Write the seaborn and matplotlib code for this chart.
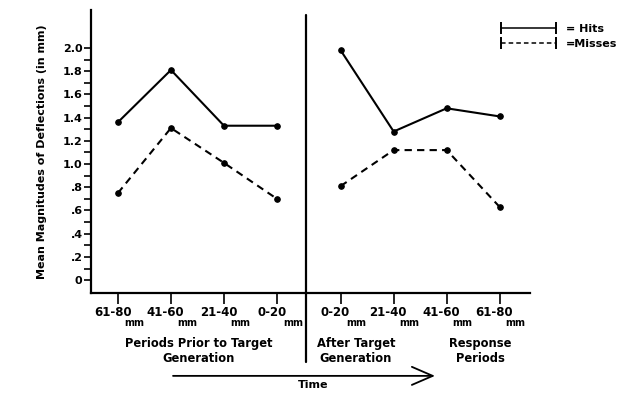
"""
Mean magnitudes of deflections for hits and misses,
before target generation and during the response periods.
"""

import pandas as pd
import numpy as np
import matplotlib.pyplot as plt
import seaborn as sns
from matplotlib.lines import Line2D
from matplotlib.transforms import blended_transform_factory

# ─────────────────────────────────────────
# Data
# ─────────────────────────────────────────
prior_labels = ["61-80", "41-60", "21-40", "0-20"]
after_labels = ["0-20", "21-40", "41-60", "61-80"]

prior_pos = [0.0, 1.0, 2.0, 3.0]
after_pos = [4.2, 5.2, 6.2, 7.2]

prior_hits = [1.36, 1.81, 1.33, 1.33]
prior_misses = [0.75, 1.31, 1.01, 0.70]
after_hits = [1.98, 1.28, 1.48, 1.41]
after_misses = [0.81, 1.12, 1.12, 0.63]

y_ticks = [0, 0.2, 0.4, 0.6, 0.8, 1.0, 1.2, 1.4, 1.6, 1.8, 2.0]
y_ticklabels = ["0", ".2", ".4", ".6", ".8", "1.0", "1.2", "1.4", "1.6", "1.8", "2.0"]

df = pd.concat([
    pd.DataFrame({"x": prior_pos, "value": prior_hits, "outcome": "Hits", "phase": "prior"}),
    pd.DataFrame({"x": prior_pos, "value": prior_misses, "outcome": "Misses", "phase": "prior"}),
    pd.DataFrame({"x": after_pos, "value": after_hits, "outcome": "Hits", "phase": "after"}),
    pd.DataFrame({"x": after_pos, "value": after_misses, "outcome": "Misses", "phase": "after"}),
], ignore_index=True)

sns.set_style("ticks")
plt.rcParams["font.family"] = ["DejaVu Sans"]
plt.rcParams["font.weight"] = "bold"
for key in ["text.color", "axes.labelcolor", "xtick.color", "ytick.color"]:
    plt.rcParams[key] = "black"

fig = plt.figure(figsize=(6.4, 3.94), dpi=100)
ax = fig.add_axes([0.142, 0.256, 0.686, 0.719])

sns.lineplot(
    data=df, x="x", y="value", style="outcome", units="phase", estimator=None,
    color="black", linewidth=1.5, markers={"Hits": "o", "Misses": "o"},
    dashes={"Hits": "", "Misses": (3.5, 2.5)}, markersize=4,
    markeredgecolor="black", legend=False, ax=ax,
)

# axes / spines
ax.set_xlim(-0.51, 7.77)
ax.set_ylim(-0.112, 2.328)
sns.despine(ax=ax)
for s in ["left", "bottom"]:
    ax.spines[s].set_linewidth(1.6)
    ax.spines[s].set_color("black")

ax.set_yticks(y_ticks, labels=y_ticklabels, fontsize=8, fontweight="bold")
ax.set_yticks(np.arange(0.1, 2.0, 0.2), minor=True)
ax.tick_params(axis="y", which="both", direction="out", length=5, width=1.2, pad=1)

ax.set_xticks(prior_pos + after_pos, labels=[""] * 8)
ax.tick_params(axis="x", direction="out", length=8, width=1.2)
ax.set_xlabel("")
ax.set_ylabel("Mean Magnitudes of Deflections (in mm)", fontsize=8,
              fontweight="bold", labelpad=11)

# tick labels with subscript "mm"
tr = blended_transform_factory(ax.transData, fig.transFigure)
for pos, lab in zip(prior_pos + after_pos, prior_labels + after_labels):
    ax.text(pos - 0.1, 1 - 313 / 394, lab, transform=tr, ha="center", va="center",
            fontsize=8.5, fontweight="bold")
    ax.text(pos + 0.3, 1 - 323 / 394, "mm", transform=tr, ha="center", va="center",
            fontsize=7, fontweight="bold")

# group labels
ax.text(1.53, 1 - 351 / 394, "Periods Prior to Target\nGeneration", transform=tr,
        ha="center", va="center", fontsize=8.3, fontweight="bold", linespacing=1.15)
ax.text(4.49, 1 - 351 / 394, "After Target\nGeneration", transform=tr,
        ha="center", va="center", fontsize=8.3, fontweight="bold", linespacing=1.15)
ax.text(6.83, 1 - 351 / 394, "Response\nPeriods", transform=tr,
        ha="center", va="center", fontsize=8.3, fontweight="bold", linespacing=1.15)

# divider between the two phases
div = blended_transform_factory(ax.transData, ax.transAxes)
ax.plot([3.55, 3.55], [-0.244, 0.982], transform=div, color="black",
        linewidth=1.6, clip_on=False)

# time arrow
ax.annotate("", xy=(0.684, 0.046), xytext=(0.266, 0.046),
            xycoords="figure fraction", textcoords="figure fraction",
            arrowprops=dict(arrowstyle="->,head_length=1.5,head_width=0.65",
                            color="black", lw=1.3))
fig.text(0.489, 0.022, "Time", ha="center", va="center", fontsize=8,
         fontweight="bold")

# legend with capped line segments
handles = [
    Line2D([], [], color="black", linestyle="-", linewidth=1.1, marker="|",
           markersize=8, markeredgewidth=1.4),
    Line2D([], [], color="black", linestyle=(0, (3, 2)), linewidth=1.1, marker="|",
           markersize=8, markeredgewidth=1.4),
]
fig.legend(handles, ["= Hits", "=Misses"], loc="upper left",
           bbox_to_anchor=(0.777, 0.94), frameon=False, numpoints=2,
           handlelength=5.6, handletextpad=0.6, labelspacing=0.5,
           borderpad=0, borderaxespad=0, prop={"size": 8, "weight": "bold"})

plt.savefig("out.png", dpi=100)
